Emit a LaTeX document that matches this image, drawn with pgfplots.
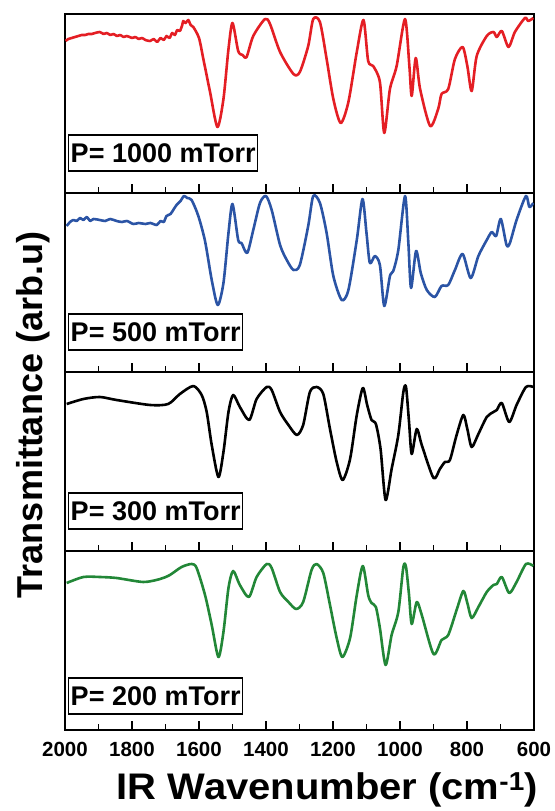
\documentclass[border=0pt]{standalone}
\usepackage{pgfplots}
\pgfplotsset{compat=1.18}
\usepackage{fontspec}
\setmainfont{Liberation Sans}
\newfontfamily\widefont{Liberation Sans}[FakeStretch=1.08]
\definecolor{cred}{RGB}{228,30,36}
\definecolor{cblue}{RGB}{43,84,165}
\definecolor{cgreen}{RGB}{34,135,55}
\pgfplotsset{
  panel/.style={
    scale only axis, width=469bp, height=179bp,
    xmin=600, xmax=2000, x dir=reverse,
    ymin=0, ymax=179,
    axis line style={line width=2bp},
    xtick={600,800,...,2000}, minor xtick={700,900,...,1900},
    ytick=\empty,
    xtick pos=bottom, tick align=inside,
    major tick length=9bp, minor tick length=5.5bp,
    every tick/.style={line width=1.6bp, black},
    xticklabels={},
    /pgf/number format/assume math mode=true,
    /pgf/number format/1000 sep={},
  },
}
\tikzset{
  curve/.style={line width=2.6bp, line join=round, smooth, tension=0.45},
  lbl/.style={draw, line width=1.5bp, fill=white, anchor=south west, inner sep=2bp,
    minimum height=36bp, font=\bfseries\fontsize{27bp}{27bp}\selectfont},
}
\begin{document}
\begin{tikzpicture}
\useasboundingbox (-65bp,-81bp) rectangle (490bp,730bp);
% ---- panel 4 (bottom, green)
\begin{axis}[panel, name=ax4, at={(0bp,0bp)}, anchor=south west,
  xticklabel style={font=\bfseries\fontsize{20.5bp}{20.5bp}\selectfont, anchor=base, yshift=-26bp},
  xtick={600,800,...,2000},
  xticklabels={600,800,1000,1200,1400,1600,1800,2000}]
\addplot[curve, cgreen] coordinates {
(1995,147)(1945,153)(1896,153)(1846,152)(1766,148)(1716,151)(1687,155)(1652,163)(1622,166)(1607,162)
(1582,135)(1562,105)(1542,73)(1527,98)(1512,142)(1498,159)(1478,145)(1451,133)(1428,153)(1398,166)
(1383,162)(1358,138)(1333,128)(1310,121)(1289,128)(1264,160)(1249,166)(1229,157)(1209,125)(1189,92)
(1172,73)(1149,92)(1129,135)(1111,164)(1095,135)(1085,127)(1072,123)(1060,102)(1043,65)(1025,95)
(1005,118)(990,163)(982,163)(973,135)(965,106)(950,128)(935,115)(900,76)(876,90)(856,95)
(831,120)(811,139)(799,127)(786,112)(766,123)(741,138)(721,145)(711,146)(696,153)(674,137)
(652,148)(624,166)(602,164)};
\node[lbl] at ([xshift=3bp,yshift=15bp]rel axis cs:0,0) {P= 200 mTorr};
\end{axis}
% ---- panel 3 (black)
\begin{axis}[panel, at={(0bp,179bp)}, anchor=south west]
\addplot[curve, black] coordinates {
(1995,147)(1945,152)(1896,154)(1846,151)(1746,146)(1692,147)(1657,157)(1617,165)(1592,156)(1577,139)
(1562,106)(1542,74)(1527,99)(1512,139)(1498,156)(1478,144)(1450,131)(1428,152)(1398,164)(1383,161)
(1358,139)(1333,126)(1308,116)(1289,126)(1269,159)(1249,164)(1229,157)(1209,122)(1189,89)(1171,71)
(1149,92)(1129,136)(1111,163)(1098,146)(1085,131)(1072,127)(1058,102)(1043,51)(1025,82)(1005,116)
(990,159)(982,164)(973,129)(965,97)(950,122)(935,106)(900,73)(881,82)(866,89)(851,91)
(831,116)(811,136)(799,122)(786,104)(766,117)(741,134)(721,139)(711,141)(696,148)(674,129)
(652,146)(624,164)(602,164)};
\node[lbl] at ([xshift=3bp,yshift=21bp]rel axis cs:0,0) {P= 300 mTorr};
\end{axis}
% ---- panel 2 (blue)
\begin{axis}[panel, at={(0bp,358bp)}, anchor=south west]
\addplot[curve, cblue] coordinates {
(1995,146)(1985,150)(1975,152)(1965,151)(1955,154)(1945,152)(1935,155)(1925,151)(1915,153)(1896,152)
(1880,151)(1865,153)(1846,151)(1830,150)(1815,151)(1796,148)(1780,149)(1760,148)(1745,149)(1726,147)
(1715,151)(1705,150)(1697,156)(1685,158)(1675,163)(1667,167)(1655,171)(1645,176)(1635,174)(1622,172)
(1602,156)(1582,131)(1562,92)(1544,67)(1527,89)(1512,139)(1500,168)(1483,132)(1473,129)(1456,119)
(1438,142)(1418,169)(1400,176)(1383,162)(1358,127)(1338,112)(1318,102)(1299,107)(1274,146)(1259,176)
(1239,169)(1219,139)(1199,96)(1174,72)(1154,82)(1129,132)(1112,173)(1100,139)(1090,109)(1075,116)
(1060,107)(1047,66)(1030,96)(1020,101)(1005,122)(985,176)(975,129)(967,84)(952,121)(938,99)
(920,82)(896,75)(876,86)(856,87)(836,102)(813,118)(789,94)(766,116)(741,132)(726,140)
(713,136)(699,153)(682,127)(672,129)(652,152)(624,176)(614,165)(602,169)};
\node[lbl] at ([xshift=3bp,yshift=21bp]rel axis cs:0,0) {P= 500 mTorr};
\end{axis}
% ---- panel 1 (top, red)
\begin{axis}[panel, at={(0bp,537bp)}, anchor=south west]
\addplot[curve, cred] coordinates {
(1998,152)(1990,154)(1980,155)(1970,156)(1960,157)(1950,158)(1940,158)(1930,159)(1920,159)(1910,160)
(1896,161)(1885,159)(1875,160)(1865,158)(1855,159)(1845,157)(1835,158)(1825,156)(1815,157)(1800,155)
(1790,156)(1780,154)(1770,155)(1760,153)(1746,152)(1735,154)(1725,151)(1715,155)(1705,153)(1697,157)
(1688,155)(1680,160)(1672,158)(1665,163)(1657,162)(1650,168)(1647,172)(1640,170)(1632,173)(1625,168)
(1617,166)(1600,155)(1587,134)(1567,101)(1545,66)(1527,94)(1512,144)(1500,170)(1483,142)(1470,138)
(1458,136)(1438,157)(1403,174)(1388,169)(1358,141)(1318,119)(1299,121)(1274,147)(1259,174)(1239,171)
(1219,134)(1199,94)(1177,70)(1154,91)(1129,141)(1109,173)(1095,132)(1080,127)(1060,111)(1047,60)
(1030,104)(1010,127)(985,174)(972,127)(965,97)(953,135)(940,104)(910,67)(886,84)(876,99)
(856,104)(836,134)(813,146)(799,127)(786,102)(771,137)(741,157)(721,161)(711,156)(696,162)
(676,146)(657,161)(627,175)(617,172)(602,175)};
\node[lbl] at ([xshift=3bp,yshift=21bp]rel axis cs:0,0) {P= 1000 mTorr};
\end{axis}
\node[font=\widefont\bfseries\fontsize{37bp}{37bp}\selectfont, anchor=base] at ([xshift=28bp,yshift=-69bp]ax4.south) {IR Wavenumber (cm\textsuperscript{-1})};
\node[font=\bfseries\fontsize{36bp}{36bp}\selectfont, rotate=90, anchor=center] at ([xshift=-32bp,yshift=315bp]ax4.south west) {Transmittance (arb.u)};
\end{tikzpicture}
\end{document}
